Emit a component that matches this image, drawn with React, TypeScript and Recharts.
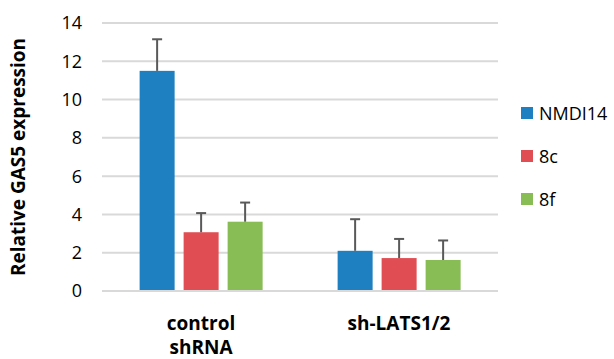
import React from "react";
import { BarChart, Bar, XAxis, YAxis, CartesianGrid } from "recharts";

const categories = ["control\nshRNA", "sh-LATS1/2"];
const seriesNames = ["NMDI14", "8c", "8f"];
const nmdi14 = [11.5, 2.1];
const c8 = [3.07, 1.72];
const f8 = [3.62, 1.62];
const nmdi14Err = [1.65, 1.65];
const c8Err = [1.0, 1.0];
const f8Err = [1.0, 1.02];
const yTicks = [0, 2, 4, 6, 8, 10, 12, 14];

const colors = ["#1F80C1", "#E04D53", "#88BC55"];
const FONT = "'Open Sans', sans-serif";

const data = categories.map((c, i) => ({
  cat: c,
  s0: nmdi14[i],
  s1: c8[i],
  s2: f8[i],
  e0: nmdi14Err[i],
  e1: c8Err[i],
  e2: f8Err[i],
}));

const makeShape = (key: string, errKey: string, fill: string) => (props: any) => {
  const { x, y, width, height, payload } = props;
  const v = payload[key];
  const err = payload[errKey];
  const pxPerUnit = height / v;
  const cx = x + width / 2;
  const top = y - err * pxPerUnit;
  return (
    <g>
      <rect x={x} y={y} width={width} height={height} fill={fill} />
      <line x1={cx} x2={cx} y1={y} y2={top} stroke="#595959" strokeWidth={2} />
      <line x1={cx - 5} x2={cx + 5} y1={top} y2={top} stroke="#595959" strokeWidth={2} />
    </g>
  );
};

const CatTick = (props: any) => {
  const { x, y, payload } = props;
  const lines = String(payload.value).split("\n");
  return (
    <text x={x} y={y} textAnchor="middle" fontFamily={FONT} fontWeight="bold" fontSize={19} fill="#000">
      {lines.map((l, i) => (
        <tspan key={i} x={x} dy={i === 0 ? 31 : 24}>
          {l}
        </tspan>
      ))}
    </text>
  );
};

export default function App() {
  return (
    <div style={{ position: "absolute", left: 0, top: 0, width: 614, height: 359, background: "#fff" }}>
      <BarChart
        width={614}
        height={359}
        data={data}
        margin={{ top: 23, right: 116, bottom: 0, left: 0 }}
        barCategoryGap="19%"
        barGap={9}
      >
        <CartesianGrid vertical={false} stroke="#D9D9D9" strokeWidth={2} />
        <XAxis
          dataKey="cat"
          axisLine={{ stroke: "#D9D9D9", strokeWidth: 2 }}
          tickLine={false}
          height={68}
          tick={<CatTick />}
          interval={0}
        />
        <YAxis
          width={102}
          domain={[0, 14]}
          ticks={yTicks}
          axisLine={false}
          tickLine={false}
          tickSize={0}
          tickMargin={20}
          tick={{ fontFamily: FONT, fontSize: 18, fill: "#000" }}
          label={{
            content: (p: any) => {
              const vb = p.viewBox;
              const cx = vb.x + 18;
              const cy = vb.y + vb.height / 2;
              return (
                <text
                  x={cx}
                  y={cy}
                  transform={`rotate(-90 ${cx} ${cy})`}
                  textAnchor="middle"
                  dominantBaseline="central"
                  fontFamily={FONT}
                  fontWeight="bold"
                  fontSize={19}
                  fill="#000"
                >
                  Relative GAS5 expression
                </text>
              );
            },
          }}
        />
        <Bar dataKey="s0" name={seriesNames[0]} fill={colors[0]} isAnimationActive={false} shape={makeShape("s0", "e0", colors[0])} />
        <Bar dataKey="s1" name={seriesNames[1]} fill={colors[1]} isAnimationActive={false} shape={makeShape("s1", "e1", colors[1])} />
        <Bar dataKey="s2" name={seriesNames[2]} fill={colors[2]} isAnimationActive={false} shape={makeShape("s2", "e2", colors[2])} />
      </BarChart>
      <div style={{ position: "absolute", left: 521, top: 91, fontFamily: FONT, fontSize: 18, color: "#000" }}>
        {seriesNames.map((n, i) => (
          <div key={n} style={{ display: "flex", alignItems: "center", height: 43 }}>
            <div style={{ width: 12, height: 12, background: colors[i], marginRight: 6 }} />
            <span>{n}</span>
          </div>
        ))}
      </div>
    </div>
  );
}
